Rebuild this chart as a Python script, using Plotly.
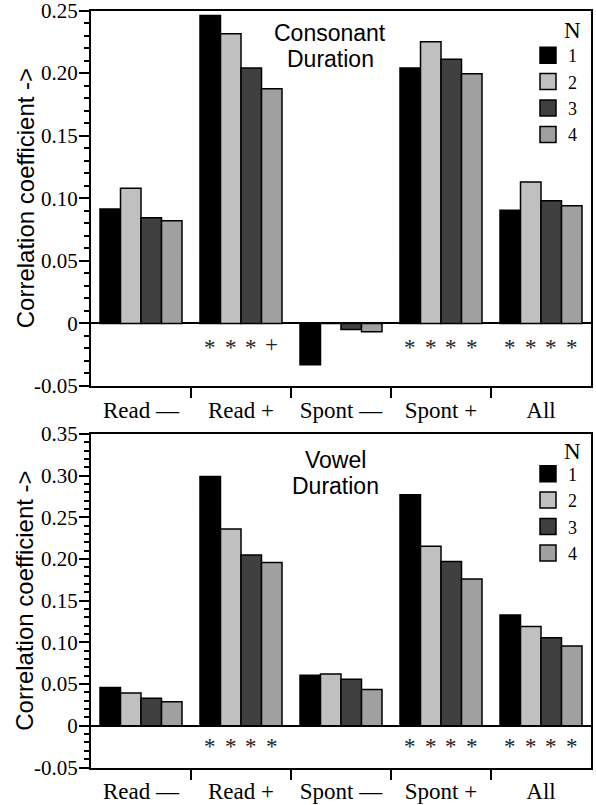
import plotly.graph_objects as go

# ---------------- data ----------------
categories = ["Read —", "Read +", "Spont —", "Spont +", "All"]
n_labels = ["1", "2", "3", "4"]
n_colors = ["#000000", "#c0c0c0", "#404040", "#a0a0a0"]

# Consonant duration (top panel)
cons_n1 = [0.0915, 0.246, -0.033, 0.204, 0.0905]
cons_n2 = [0.108, 0.2315, 0.000, 0.225, 0.113]
cons_n3 = [0.0845, 0.204, -0.0048, 0.211, 0.098]
cons_n4 = [0.082, 0.1875, -0.0067, 0.1995, 0.094]

# Vowel duration (bottom panel)
vow_n1 = [0.046, 0.299, 0.0605, 0.277, 0.133]
vow_n2 = [0.0395, 0.236, 0.062, 0.2155, 0.119]
vow_n3 = [0.033, 0.205, 0.0557, 0.197, 0.1056]
vow_n4 = [0.0288, 0.196, 0.0437, 0.176, 0.0957]

# significance marks under each bar (group x N)
cons_marks = [["", "", "", ""], ["*", "*", "*", "+"], ["", "", "", ""],
              ["*", "*", "*", "*"], ["*", "*", "*", "*"]]
vow_marks = [["", "", "", ""], ["*", "*", "*", "*"], ["", "", "", ""],
             ["*", "*", "*", "*"], ["*", "*", "*", "*"]]

cons_tickvals = [-0.05, 0, 0.05, 0.10, 0.15, 0.20, 0.25]
cons_ticktext = ["-0.05", "0", "0.05", "0.10", "0.15", "0.20", "0.25"]
vow_tickvals = [-0.05, 0, 0.05, 0.10, 0.15, 0.20, 0.25, 0.30, 0.35]
vow_ticktext = ["-0.05", "0", "0.05", "0.10", "0.15", "0.20", "0.25", "0.30", "0.35"]

cons_title = ["Consonant", "Duration"]
vow_title = ["Vowel", "Duration"]
y_title = "Correlation coefficient ->"
legend_title = "N"

# ---------------- figure ----------------
W, H = 596, 805
L, R = 91, 5
SERIF = "Liberation Serif"
SANS = "Liberation Sans"
BARGAP = 0.18
bar_w = (1 - BARGAP) / len(n_labels)

TOP_DOM = (10.5, 386)     # px from top
BOT_DOM = (434, 767.5)

x_idx = list(range(len(categories)))
fig = go.Figure()

panels = [
    dict(series=[cons_n1, cons_n2, cons_n3, cons_n4], xa="x", ya="y", legend="legend"),
    dict(series=[vow_n1, vow_n2, vow_n3, vow_n4], xa="x2", ya="y2", legend="legend2"),
]
for p in panels:
    for k, vals in enumerate(p["series"]):
        fig.add_trace(go.Bar(
            x=x_idx, y=vals, name=n_labels[k],
            marker=dict(color=n_colors[k], line=dict(color="black", width=1.5)),
            showlegend=False, xaxis=p["xa"], yaxis=p["ya"], hoverinfo="skip"))
    for k in range(len(n_labels)):
        fig.add_trace(go.Scatter(
            x=[None], y=[None], mode="markers", name=n_labels[k],
            marker=dict(symbol="square", size=16, color=n_colors[k],
                        line=dict(color="black", width=1.5)),
            legend=p["legend"], xaxis=p["xa"], yaxis=p["ya"]))

def px_y(py):
    return 1 - py / H

def px_x(px):
    return (px - L) / (W - L - R)

common_x = dict(
    range=[-0.5, len(categories) - 0.5], tickmode="array", tickvals=x_idx,
    ticktext=categories, ticks="outside", ticklen=2, tickcolor="rgba(0,0,0,0)",
    minor=dict(tickmode="array", tickvals=[i + 0.5 for i in x_idx[:-1]],
               ticks="outside", ticklen=10, tickwidth=2, tickcolor="black"),
    showline=True, linewidth=2, linecolor="black", mirror=True,
    showgrid=False, zeroline=False, automargin=False, ticklabeloverflow="allow",
    tickfont=dict(family=SERIF, size=23, color="black"), fixedrange=True)

def yaxis(domain, rng, tv, tt):
    return dict(
        domain=domain, range=rng, tickmode="array", tickvals=tv, ticktext=tt,
        ticks="outside", ticklen=10, tickwidth=2, tickcolor="black",
        minor=dict(tickmode="linear", tick0=0, dtick=0.01, ticks="outside",
                   ticklen=5, tickwidth=1.5, tickcolor="black"),
        showline=True, linewidth=2, linecolor="black", mirror=True,
        zeroline=True, zerolinecolor="black", zerolinewidth=1.5,
        showgrid=False, automargin=False, ticklabeloverflow="allow",
        ticklabelstandoff=-3,
        tickfont=dict(family=SERIF, size=21, color="black"),
        fixedrange=True)

fig.update_layout(
    width=W, height=H,
    margin=dict(l=L, r=R, t=0, b=0, autoexpand=False),
    paper_bgcolor="white", plot_bgcolor="white",
    barmode="group", bargap=BARGAP, bargroupgap=0,
    xaxis=dict(anchor="y", domain=[0, 1], **common_x),
    xaxis2=dict(anchor="y2", domain=[0, 1], **common_x),
    yaxis=yaxis([px_y(TOP_DOM[1]), px_y(TOP_DOM[0])], [-0.05, 0.25],
                cons_tickvals, cons_ticktext),
    yaxis2=yaxis([px_y(BOT_DOM[1]), px_y(BOT_DOM[0])], [-0.05, 0.35],
                 vow_tickvals, vow_ticktext),
    legend=dict(x=px_x(528), y=px_y(37), xanchor="left", yanchor="top",
                font=dict(family=SERIF, size=18, color="black"),
                bgcolor="rgba(0,0,0,0)", tracegroupgap=0),
    legend2=dict(x=px_x(528), y=px_y(455.5), xanchor="left", yanchor="top",
                 font=dict(family=SERIF, size=18, color="black"),
                 bgcolor="rgba(0,0,0,0)", tracegroupgap=0),
    showlegend=True,
)

ann = []
# y-axis titles
for dom in [TOP_DOM, BOT_DOM]:
    ann.append(dict(text=y_title, xref="paper", yref="paper", x=px_x(25),
                    y=px_y((dom[0] + dom[1]) / 2), textangle=-90,
                    xanchor="center", yanchor="middle", showarrow=False,
                    font=dict(family=SANS, size=24, color="black")))
# panel titles
for txt, cx, cy in [(cons_title[0], 330, 33), (cons_title[1], 330, 59),
                    (vow_title[0], 335, 460), (vow_title[1], 335, 486)]:
    ann.append(dict(text=txt, xref="paper", yref="paper", x=px_x(cx), y=px_y(cy),
                    xanchor="center", yanchor="middle", showarrow=False,
                    font=dict(family=SANS, size=23, color="black")))
# legend titles
for cy in [31, 451]:
    ann.append(dict(text=legend_title, xref="paper", yref="paper", x=px_x(572), y=px_y(cy),
                    xanchor="center", yanchor="middle", showarrow=False,
                    font=dict(family=SERIF, size=23, color="black")))
# significance marks
for marks, xr, yr, shift in [(cons_marks, "x", "y", -21), (vow_marks, "x2", "y2", -18)]:
    for i, grp in enumerate(marks):
        for k, m in enumerate(grp):
            if not m:
                continue
            extra = -3 if m == "*" else 0
            ann.append(dict(text=m, xref=xr, yref=yr,
                            x=i + (k - (len(n_labels) - 1) / 2) * bar_w, y=0,
                            yshift=shift + extra, xanchor="center", yanchor="middle",
                            showarrow=False,
                            font=dict(family=SERIF, size=23, color="#222222")))
fig.update_layout(annotations=ann)

fig.write_html(
    "out.html",
    config={"displayModeBar": False},
    post_script="document.body.style.margin='0';document.body.style.padding='0';"
                "document.body.style.overflow='hidden';",
)
